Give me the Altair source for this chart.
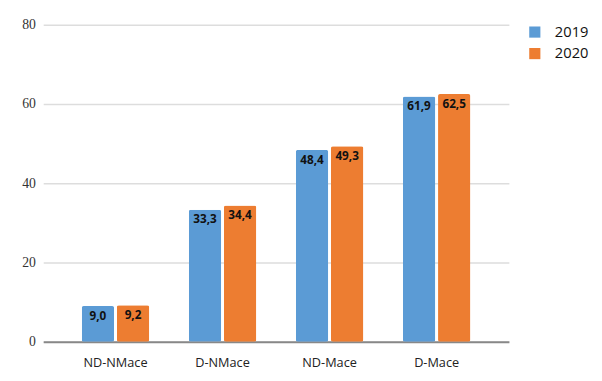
import altair as alt
import pandas as pd

categories = ["ND-NMace", "D-NMace", "ND-Mace", "D-Mace"]
years = ["2019", "2020"]
values_2019 = [9.0, 33.3, 48.4, 61.9]
values_2020 = [9.2, 34.4, 49.3, 62.5]

rows = []
for c, a, b in zip(categories, values_2019, values_2020):
    rows.append({"cat": c, "year": "2019", "value": a})
    rows.append({"cat": c, "year": "2020", "value": b})
df = pd.DataFrame(rows)
df["label"] = df["value"].map(lambda v: f"{v:.1f}".replace(".", ","))

x = alt.X("cat:N", sort=categories, title=None,
          scale=alt.Scale(paddingInner=0.37, paddingOuter=0.36),
          axis=alt.Axis(labelAngle=0, labelFont="Open Sans", labelFontSize=13,
                        labelColor="#222", labelPadding=15, ticks=False,
                        domainColor="#888", domainWidth=2, grid=False))
y = alt.Y("value:Q", title=None,
          scale=alt.Scale(domain=[0, 80]),
          axis=alt.Axis(values=[0, 20, 40, 60, 80], labelFont="Liberation Serif, DejaVu Serif, serif",
                        labelFontSize=14, labelColor="#333", ticks=False,
                        domain=False, gridColor="#ddd", gridWidth=1.5, labelPadding=8))
color = alt.Color("year:N", sort=years,
                  scale=alt.Scale(domain=years, range=["#5B9BD5", "#ED7D31"]),
                  legend=alt.Legend(title=None, symbolType="square", symbolSize=130,
                                    symbolStrokeWidth=0, labelFont="Open Sans",
                                    labelFontSize=15, labelColor="#111",
                                    rowPadding=6, offset=19, labelOffset=13))
xo = alt.XOffset("year:N", sort=years, scale=alt.Scale(paddingInner=0.08))

base = alt.Chart(df).encode(x=x, xOffset=xo)
bars = base.mark_bar(cornerRadius=2).encode(y=y, color=color)
text = base.mark_text(baseline="middle", dy=10, fontWeight="bold", fontSize=12,
                      font="Open Sans", color="#111").encode(
    y=alt.Y("value:Q"), text="label:N")

chart = (bars + text).properties(width=476, height=324, padding={"left": 14, "top": 6, "right": 5, "bottom": 5}).configure_view(stroke=None)

chart.save("out.html", embed_options={"renderer": "svg", "actions": False})
